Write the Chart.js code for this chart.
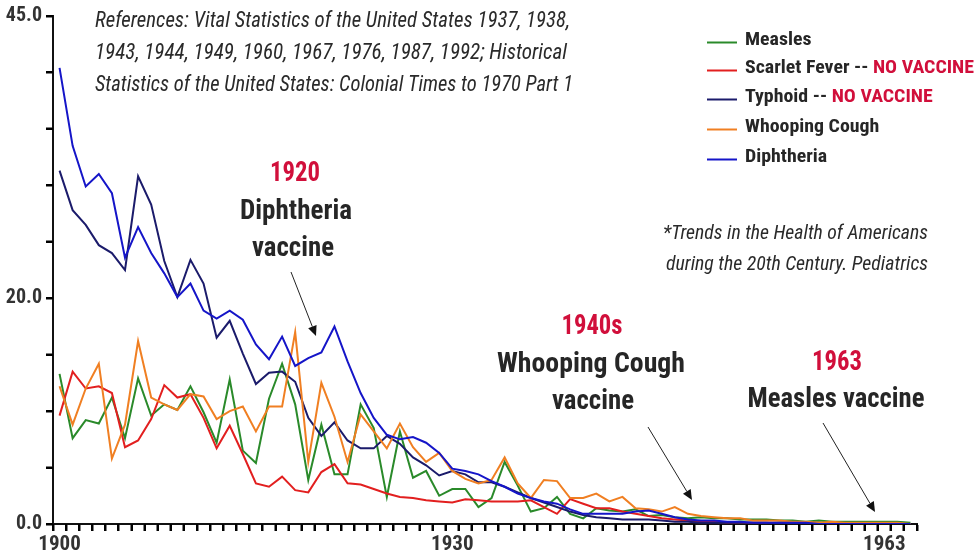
<!DOCTYPE html>
<html><head><meta charset="utf-8">
<script src="https://cdn.jsdelivr.net/npm/chart.js@4.4.1/dist/chart.umd.min.js"></script>
<style>html,body{margin:0;padding:0;background:#fff;}canvas{display:block;}</style>
</head><body>
<canvas id="c" width="976" height="557"></canvas>
<script>
// ---- DATA ----
const years = ['1900','1901','1902','1903','1904','1905','1906','1907','1908','1909',
  '1910','1911','1912','1913','1914','1915','1916','1917','1918','1919',
  '1920','1921','1922','1923','1924','1925','1926','1927','1928','1929',
  '1930','1931','1932','1933','1934','1935','1936','1937','1938','1939',
  '1940','1941','1942','1943','1944','1945','1946','1947','1948','1949',
  '1950','1951','1952','1953','1954','1955','1956','1957','1958','1959',
  '1960','1961','1962','1963','1964','1965'];

const measles = [13.3,7.6,9.2,8.9,11.2,7.6,12.9,9.6,10.6,10.1,
  12.2,9.9,7.2,12.8,6.5,5.4,11.1,14.2,10.6,3.9,
  8.8,4.4,4.4,10.6,8.5,2.4,8.2,4.1,4.7,2.5,
  3.1,3.1,1.5,2.3,5.5,3.4,1.1,1.4,2.4,0.9,
  0.5,1.4,1.2,1.1,1.3,0.7,0.8,0.6,0.5,0.6,
  0.5,0.5,0.4,0.4,0.4,0.3,0.3,0.2,0.3,0.2,
  0.2,0.2,0.2,0.2,0.2,0.1];

const scarletFever = [9.6,13.5,12.0,12.2,11.6,6.8,7.4,9.3,12.3,11.2,
  11.5,9.4,6.7,8.7,6.2,3.6,3.3,4.2,3.0,2.8,
  4.6,5.3,3.6,3.5,3.1,2.7,2.4,2.3,2.1,2.0,
  1.9,2.2,2.1,2.0,2.0,2.0,2.1,1.5,0.9,2.2,
  1.8,1.4,1.4,1.1,0.9,0.7,0.5,0.4,0.3,0.2,
  0.2,0.1,0.1,0.1,0.1,0.1,0.1,0.1,0.1,0.0,
  0.0,0.0,0.0,0.0,0.0,0.0];

const typhoid = [31.3,27.8,26.5,24.7,24.0,22.5,30.8,28.3,23.3,20.1,
  23.4,21.3,16.5,18.0,15.1,12.4,13.4,13.5,12.6,9.4,
  7.8,9.0,7.4,6.7,6.7,7.8,7.1,5.9,5.2,4.3,
  4.7,4.4,3.7,3.7,3.3,2.8,2.3,1.9,1.5,1.1,
  0.8,0.6,0.5,0.4,0.4,0.4,0.3,0.2,0.2,0.1,
  0.1,0.1,0.1,0.1,0.1,0.0,0.0,0.0,0.0,0.0,
  0.0,0.0,0.0,0.0,0.0,0.0];

const whoopingCough = [12.2,8.8,12.0,14.2,5.8,8.8,16.2,11.2,10.6,10.1,
  11.5,11.3,9.3,10.0,10.4,8.2,10.4,10.4,17.0,5.5,
  12.5,9.5,5.5,9.7,8.2,6.7,8.9,6.8,5.5,6.3,
  4.7,4.0,3.6,3.9,5.9,3.6,2.3,3.9,3.8,2.3,
  2.3,2.7,2.0,2.4,1.4,1.3,1.1,1.5,0.9,0.7,
  0.6,0.5,0.5,0.3,0.3,0.3,0.2,0.2,0.1,0.2,
  0.1,0.1,0.1,0.1,0.1,0.0];

const diphtheria = [40.4,33.5,29.9,31.0,29.3,23.6,26.3,24.0,22.2,20.1,
  21.3,18.9,18.2,18.9,18.1,15.9,14.6,16.6,14.0,14.7,
  15.2,17.5,14.4,11.6,9.4,7.9,7.5,7.7,7.2,6.3,
  4.9,4.7,4.4,3.8,3.3,2.7,2.3,2.0,1.8,1.3,
  0.9,0.9,0.9,0.9,1.1,1.2,0.9,0.6,0.4,0.3,
  0.3,0.2,0.2,0.1,0.1,0.1,0.1,0.1,0.0,0.0,
  0.0,0.0,0.0,0.0,0.0,0.0];

const seriesNames = ['Measles','Scarlet Fever','Typhoid','Whooping Cough','Diphtheria'];
const seriesNotes = ['','NO VACCINE','NO VACCINE','',''];
const seriesColors = ['#2a8a2a','#e21f1f','#1b1b6b','#f07f22','#1515c8'];
const xTickLabels = ['1900','1930','1963'];
const yTickLabels = [0,20,45];

const referenceLines = [
  'References: Vital Statistics of the United States 1937, 1938,',
  '1943, 1944, 1949, 1960, 1967, 1976, 1987, 1992; Historical',
  'Statistics of the United States: Colonial Times to 1970 Part 1'];
const sourceLines = ['*Trends in the Health of Americans','during the 20th Century. Pediatrics'];

// ---- FONT PICK ----
function hasFont(name){
  const c=document.createElement('canvas').getContext('2d');
  const t='abcdefghijklmnopqrstuvwxyzABCDEFGHIJ0123456789';
  c.font='20px monospace'; const a=c.measureText(t).width;
  c.font='20px "'+name+'", monospace'; const b=c.measureText(t).width;
  return Math.abs(a-b)>0.5;
}
let NARROW='Roboto';
for(const f of ['Roboto Condensed','DejaVu Sans Condensed']){
  if(hasFont(f)){NARROW=f;break;}
}
const FAM='"'+NARROW+'", Roboto, "Liberation Sans", sans-serif';
const CRIMSON='#d10f3b';
const INK='#262626';

function fitText(ctx,text,x,y,width,font,color,align){
  ctx.save(); ctx.font=font; ctx.fillStyle=color; ctx.textBaseline='middle';
  const w=ctx.measureText(text).width; const s=width/w;
  ctx.translate(x,y); ctx.scale(s,1); ctx.textAlign=align||'center';
  ctx.fillText(text,0,0); ctx.restore();
}
function arrow(ctx,x1,y1,x2,y2){
  ctx.save(); ctx.strokeStyle='#222'; ctx.fillStyle='#111'; ctx.lineWidth=1;
  const a=Math.atan2(y2-y1,x2-x1), L=10, H=4.5;
  const bx=x2-L*Math.cos(a), by=y2-L*Math.sin(a);
  ctx.beginPath(); ctx.moveTo(x1,y1); ctx.lineTo(bx,by); ctx.stroke();
  ctx.beginPath(); ctx.moveTo(x2,y2);
  ctx.lineTo(bx+H*Math.sin(a),by-H*Math.cos(a));
  ctx.lineTo(bx-H*Math.sin(a),by+H*Math.cos(a));
  ctx.closePath(); ctx.fill(); ctx.restore();
}

const overlay={
  id:'overlay',
  afterDraw(chart){
    const ctx=chart.ctx;
    const xs=chart.scales.x, ys=chart.scales.y, area=chart.chartArea;
    // tick marks, positioned by the chart's own scales
    ctx.save(); ctx.strokeStyle='#000'; ctx.lineWidth=2;
    for(let v=0; v<=45; v+=5){
      const y=Math.round(ys.getPixelForValue(v));
      ctx.beginPath(); ctx.moveTo(area.left-7,y); ctx.lineTo(area.left,y); ctx.stroke();
    }
    for(let i=0;i<=years.length;i++){
      const x=Math.round(xs.getPixelForValue(i-0.5));
      ctx.beginPath(); ctx.moveTo(x,area.bottom); ctx.lineTo(x,area.bottom+7); ctx.stroke();
    }
    ctx.restore();
    // references
    const refFont='italic 22px '+FAM;
    const refW=[475,472,478], refY=[21,53,85];
    referenceLines.forEach((t,i)=>fitText(ctx,t,95,refY[i],refW[i],refFont,'#2a2a2a','left'));
    // source
    const srcFont='italic 20px '+FAM;
    fitText(ctx,sourceLines[0],663,234,265,srcFont,'#2a2a2a','left');
    fitText(ctx,sourceLines[1],666,265,262,srcFont,'#2a2a2a','left');
    // legend
    ctx.save();
    const lf='bold 19px '+FAM; ctx.font=lf;
    const s=229/ctx.measureText('Scarlet Fever -- NO VACCINE').width;
    const rowY=[40,68,97,127,157];
    seriesNames.forEach((n,i)=>{
      const y=rowY[i];
      ctx.save(); ctx.strokeStyle=seriesColors[i]; ctx.lineWidth=2;
      ctx.beginPath(); ctx.moveTo(707,y+2.5); ctx.lineTo(737,y+2.5); ctx.stroke(); ctx.restore();
      ctx.save(); ctx.translate(745,y); ctx.scale(s,1); ctx.font=lf; ctx.textBaseline='middle'; ctx.textAlign='left';
      ctx.fillStyle=INK;
      let label=n+(seriesNotes[i]?' -- ':'');
      ctx.fillText(label,0,0);
      if(seriesNotes[i]){ctx.fillStyle=CRIMSON; ctx.fillText(seriesNotes[i],ctx.measureText(label).width,0);}
      ctx.restore();
    });
    ctx.restore();
    // annotations
    const bf='bold 27px '+FAM;
    fitText(ctx,'1920',295,174,50,bf,CRIMSON);
    fitText(ctx,'Diphtheria',296,212,112,bf,INK);
    fitText(ctx,'vaccine',293,249,82,bf,INK);
    arrow(ctx,291,272,316,336);
    fitText(ctx,'1940s',592,327,61,bf,CRIMSON);
    fitText(ctx,'Whooping Cough',591,365,188,bf,INK);
    fitText(ctx,'vaccine',593,402,82,bf,INK);
    arrow(ctx,648,427,692,500);
    fitText(ctx,'1963',837,363,50,bf,CRIMSON);
    fitText(ctx,'Measles vaccine',836,400,177,bf,INK);
    arrow(ctx,823,423,875,512);
  }
};

const seriesData=[measles,scarletFever,typhoid,whoopingCough,diphtheria];
const drawOrder=[4,3,2,1,0];
const datasets=seriesNames.map((n,i)=>({
  label:n, data:seriesData[i], borderColor:seriesColors[i], backgroundColor:seriesColors[i],
  borderWidth:2, pointRadius:0, tension:0, fill:false, order:drawOrder[i]
}));

new Chart(document.getElementById('c'),{
  type:'line',
  data:{labels:years,datasets},
  options:{
    responsive:false, animation:false, devicePixelRatio:1,
    layout:{padding:{top:10,right:59,left:0,bottom:0}},
    plugins:{legend:{display:false},tooltip:{enabled:false}},
    scales:{
      x:{
        offset:true,
        grid:{offset:true,drawOnChartArea:false,drawTicks:true,tickLength:7,tickColor:'#000',tickWidth:2},
        border:{display:true,color:'#111',width:2},
        ticks:{autoSkip:false,maxRotation:0,minRotation:0,padding:1,color:'#333',
          font:{family:FAM,size:21,weight:'bold'},
          callback:(v,i)=>xTickLabels.includes(years[i])?years[i]:''},
        afterFit:(sc)=>{sc.height=33;}
      },
      y:{
        min:0,max:45,
        grid:{drawOnChartArea:false,drawTicks:true,tickLength:7,tickColor:'#000',tickWidth:2},
        border:{display:true,color:'#111',width:2},
        ticks:{stepSize:5,padding:4,color:'#333',font:{family:FAM,size:20,weight:'bold'},
          callback:(v)=>yTickLabels.includes(v)?v.toFixed(1):''},
        afterFit:(sc)=>{sc.width=53;}
      }
    }
  },
  plugins:[overlay]
});
</script>
</body></html>
